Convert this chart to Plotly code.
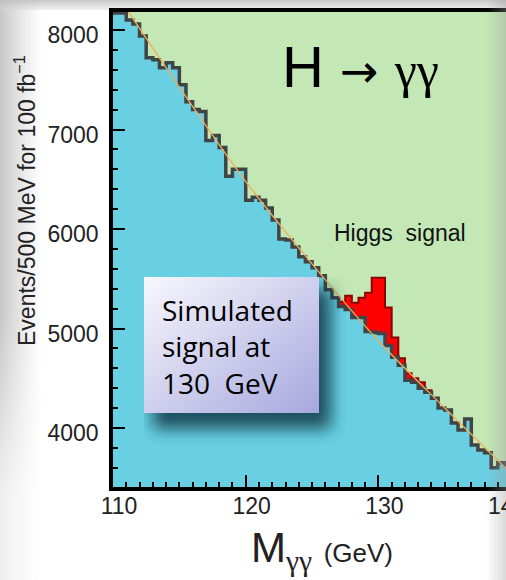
import base64
import plotly.graph_objects as go

# Diphoton invariant mass spectrum, 500 MeV bins from 110 to 140 GeV
BIN_START = 110.0
BIN_WIDTH = 0.5

# Expected background (events per 500 MeV bin, 100 fb^-1)
background = [8170, 8170, 8100, 8060, 7940, 7720, 7700, 7620, 7670, 7620,
              7450, 7280, 7200, 7180, 6890, 6940, 6820, 6530, 6600, 6600,
              6290, 6320, 6290, 6210, 6090, 5900, 5890, 5820, 5720, 5670,
              5610, 5530, 5390, 5310, 5220, 5190, 5110, 5110, 4970, 4960,
              4950, 4830, 4710, 4630, 4480, 4460, 4400, 4360, 4300, 4200,
              4180, 4050, 3980, 4090, 3830, 3780, 3750, 3600, 3650, 3630]

# Simulated Higgs signal (m_H = 130 GeV) stacked on the background
signal = [0, 0, 0, 0, 0, 0, 0, 0, 0, 0,
          0, 0, 0, 0, 0, 0, 0, 0, 0, 0,
          0, 0, 0, 0, 0, 0, 0, 0, 0, 0,
          0, 0, 0, 0, 50, 140, 150, 200, 390, 550,
          560, 380, 200, 70, 70, 40, 60, 20, 0, 0,
          0, 0, 0, 0, 0, 0, 0, 0, 0, 0]

# Smooth background fit
fit_mass = [110, 115, 120, 125, 130, 135, 140]
fit_events = [8417, 7425, 6477, 5650, 4877, 4201, 3544]

x_ticks = [110, 120, 130, 140]
y_ticks = [4000, 5000, 6000, 7000, 8000]

# ---- layout geometry (pixels) ----
W, H = 506, 580
ML, MR, MT, MB = 113, 0, 12, 93
PW, PH = W - ML - MR, H - MT - MB
X_RANGE = [110, 110 + PW / 13.27]
Y_RANGE = [3407, 8181]


def px(xp):
    return (xp - ML) / PW


def py(yp):
    return (H - MB - yp) / PH


def svg_uri(svg):
    return "data:image/svg+xml;base64," + base64.b64encode(svg.encode()).decode()


edges = [BIN_START + BIN_WIDTH * i for i in range(len(background) + 1)]
bkg_steps = background + [background[-1]]
total = [b + s for b, s in zip(background, signal)]
total_steps = total + [total[-1]]

BLUE = "#69d0e3"
GREEN = "#c3e8b5"
SANS = "Liberation Sans, Arial, sans-serif"
TICK_FONT = dict(family=SANS, size=23, color="#222")

fig = go.Figure()
fig.add_trace(go.Scatter(x=edges, y=bkg_steps, mode="lines", line_shape="hv",
                         line=dict(width=0, color=BLUE), fill="tozeroy",
                         fillcolor=BLUE, hoverinfo="skip"))
fig.add_trace(go.Scatter(x=edges, y=total_steps, mode="lines", line_shape="hv",
                         line=dict(width=2, color="#8b0000"), fill="tonexty",
                         fillcolor="#ff0000", hoverinfo="skip"))
fig.add_trace(go.Scatter(x=edges, y=bkg_steps, mode="lines", line_shape="hv",
                         line=dict(width=3.5, color="#3f4446"), hoverinfo="skip"))
fig.add_trace(go.Scatter(x=fit_mass, y=fit_events, mode="lines", line_shape="spline",
                         line=dict(width=1.3, color="#f2ad55"), hoverinfo="skip"))

# Slide shading around the chart
margin_svg = f"""<svg xmlns="http://www.w3.org/2000/svg" width="{W}" height="{H}" viewBox="0 0 {W} {H}" preserveAspectRatio="none">
<defs>
<linearGradient id="l" x1="0" y1="0" x2="1" y2="0"><stop offset="0" stop-color="#b9b9b9" stop-opacity="0.8"/><stop offset="1" stop-color="#c9c9c9" stop-opacity="0"/></linearGradient>
<linearGradient id="lm" x1="0" y1="0" x2="0" y2="1"><stop offset="0.55" stop-color="white" stop-opacity="1"/><stop offset="0.85" stop-color="white" stop-opacity="0.3"/></linearGradient>
<mask id="m"><rect width="{W}" height="{H}" fill="url(#lm)"/></mask>
<linearGradient id="t" x1="0" y1="0" x2="0" y2="1"><stop offset="0" stop-color="#bcbcbc" stop-opacity="0.85"/><stop offset="1" stop-color="#d6d6d6" stop-opacity="0.4"/></linearGradient>
</defs>
<rect x="0" y="0" width="42" height="{H}" fill="url(#l)" mask="url(#m)"/>
<rect x="0" y="0" width="{W}" height="10" fill="url(#t)"/>
</svg>"""

right_svg = f"""<svg xmlns="http://www.w3.org/2000/svg" width="20" height="{H}" viewBox="0 0 20 {H}" preserveAspectRatio="none">
<defs><linearGradient id="r" x1="0" y1="0" x2="1" y2="0"><stop offset="0" stop-color="#9a9a9a" stop-opacity="0"/><stop offset="1" stop-color="#9a9a9a" stop-opacity="0.38"/></linearGradient></defs>
<rect x="0" y="0" width="20" height="{H}" fill="url(#r)"/>
</svg>"""

box_svg = """<svg xmlns="http://www.w3.org/2000/svg" width="216" height="173" viewBox="0 0 216 173" preserveAspectRatio="none">
<defs>
<filter id="b" x="-40%" y="-40%" width="180%" height="180%"><feGaussianBlur stdDeviation="8"/></filter>
<linearGradient id="g" x1="0" y1="0" x2="1" y2="1"><stop offset="0" stop-color="#f8f8fd"/><stop offset="1" stop-color="#a7a7de"/></linearGradient>
</defs>
<rect x="9" y="12" width="178" height="140" fill="#0a3a48" fill-opacity="0.85" filter="url(#b)"/>
<rect x="0" y="0" width="175" height="136" fill="url(#g)"/>
</svg>"""

fig.update_layout(
    width=W, height=H,
    margin=dict(l=ML, r=MR, t=MT, b=MB, pad=0),
    paper_bgcolor="white", plot_bgcolor=GREEN,
    showlegend=False,
    images=[
        dict(source=svg_uri(margin_svg), xref="paper", yref="paper",
             x=px(0), y=py(0), sizex=W / PW, sizey=H / PH,
             xanchor="left", yanchor="top", sizing="stretch", layer="below"),
        dict(source=svg_uri(right_svg), xref="paper", yref="paper",
             x=px(W - 20), y=py(0), sizex=20 / PW, sizey=H / PH,
             xanchor="left", yanchor="top", sizing="stretch", layer="above"),
        dict(source=svg_uri(box_svg), xref="paper", yref="paper",
             x=px(144), y=py(277), sizex=216 / PW, sizey=173 / PH,
             xanchor="left", yanchor="top", sizing="stretch", layer="above"),
    ],
    xaxis=dict(range=X_RANGE, showgrid=False, zeroline=False,
               showline=True, linewidth=3.5, linecolor="black", mirror=True,
               ticks="inside", tickvals=x_ticks, ticklen=12, tickwidth=2, tickcolor="black",
               minor=dict(dtick=1, tick0=110, ticks="inside", ticklen=5, tickwidth=1.5, tickcolor="black"),
               tickfont=TICK_FONT, ticklabelshift=6, ticklabelstandoff=-4),
    yaxis=dict(range=Y_RANGE, showgrid=False, zeroline=False,
               showline=True, linewidth=3.5, linecolor="black",
               ticks="inside", tickvals=y_ticks, ticklen=12, tickwidth=2, tickcolor="black",
               minor=dict(dtick=200, tick0=0, ticks="inside", ticklen=5, tickwidth=1.5, tickcolor="black"),
               tickfont=TICK_FONT, ticklabelstandoff=6, ticklabelshift=5),
)

# paper position of the last tick, which lies just past the right edge
last_tick_paper = (x_ticks[-1] - X_RANGE[0]) / (X_RANGE[1] - X_RANGE[0])

annotations = [
    # process label
    dict(text="<span style='font-family:Liberation Sans Narrow, Liberation Sans'>H</span>"
              " <span style='font-family:DejaVu Sans;font-size:46px'>→</span>"
              " <span style='font-family:Liberation Serif;font-size:50px'>γγ</span>",
         x=px(360), y=py(66), xref="paper", yref="paper",
         xanchor="center", yanchor="middle", showarrow=False,
         font=dict(family=SANS, size=58, color="black")),
    dict(text="Higgs\u00a0 signal", x=px(400), y=py(233), xref="paper", yref="paper",
         xanchor="center", yanchor="middle", showarrow=False,
         font=dict(family=SANS, size=23, color="#111")),
    dict(text="Simulated<br>signal at<br>130\u00a0 GeV", x=px(160), y=py(289),
         xref="paper", yref="paper", xanchor="left", yanchor="top", align="left",
         showarrow=False, font=dict(family="Open Sans, sans-serif", size=28, color="black")),
    # axis titles
    dict(text="Events/500 MeV for 100 fb<sup>−1</sup>", x=px(25), y=py(201),
         xref="paper", yref="paper", xanchor="center", yanchor="middle",
         textangle=-90, showarrow=False, font=dict(family=SANS, size=23, color="#222")),
    dict(text="M<sub><span style='font-family:Liberation Serif'>γγ</span></sub>"
              " <span style='font-size:26px'>(GeV)</span>",
         x=px(322), y=py(550), xref="paper", yref="paper",
         xanchor="center", yanchor="middle", showarrow=False,
         font=dict(family=SANS, size=42, color="#222")),
    # last tick label
    dict(text=str(x_ticks[-1]), x=last_tick_paper, xref="paper", y=0, yref="paper",
         xanchor="center", yanchor="top", yshift=-4, xshift=-4, showarrow=False,
         font=TICK_FONT),
]
fig.update_layout(annotations=annotations)

fig.write_html("out.html")
